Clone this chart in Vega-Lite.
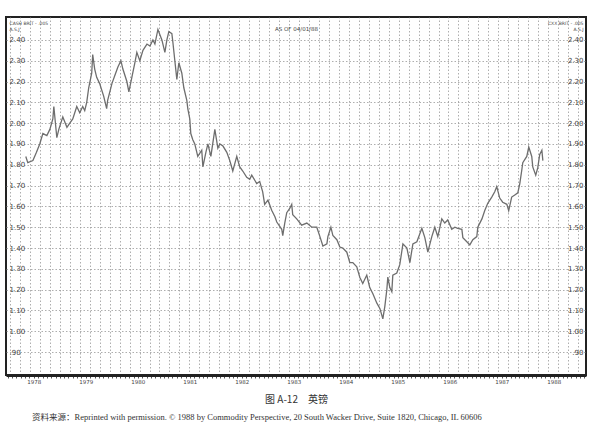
{
  "$schema": "https://vega.github.io/schema/vega-lite/v6.json",
  "width": 580,
  "height": 358,
  "autosize": {"type": "none"},
  "padding": {"left": 6, "top": 17, "right": 14, "bottom": 63},
  "background": "white",
  "title": {
    "text": "资料来源：Reprinted with permission. © 1988 by Commodity Perspective, 20 South Wacker Drive, Suite 1820, Chicago, IL 60606",
    "orient": "bottom",
    "anchor": "start",
    "dx": 26,
    "offset": 8,
    "font": "Liberation Serif, Noto Sans CJK SC",
    "fontSize": 8.5,
    "fontWeight": "normal",
    "color": "#333"
  },
  "config": {
    "font": "DejaVu Sans",
    "view": {"stroke": "#222", "strokeWidth": 2}
  },
  "data": {
    "values": [
      {"d": "1978-05-06", "v": 1.84},
      {"d": "1978-05-20", "v": 1.81},
      {"d": "1978-06-25", "v": 1.82},
      {"d": "1978-07-20", "v": 1.86},
      {"d": "1978-08-12", "v": 1.9},
      {"d": "1978-09-03", "v": 1.95},
      {"d": "1978-10-01", "v": 1.94},
      {"d": "1978-10-22", "v": 1.97},
      {"d": "1978-11-12", "v": 2.02},
      {"d": "1978-11-19", "v": 2.08},
      {"d": "1978-12-10", "v": 1.93},
      {"d": "1978-12-24", "v": 1.97},
      {"d": "1979-01-21", "v": 2.03},
      {"d": "1979-02-19", "v": 1.98},
      {"d": "1979-03-11", "v": 2.0},
      {"d": "1979-04-01", "v": 2.02},
      {"d": "1979-04-29", "v": 2.08},
      {"d": "1979-05-20", "v": 2.05},
      {"d": "1979-06-10", "v": 2.08},
      {"d": "1979-06-24", "v": 2.06},
      {"d": "1979-07-08", "v": 2.1},
      {"d": "1979-07-22", "v": 2.17},
      {"d": "1979-08-12", "v": 2.24},
      {"d": "1979-08-19", "v": 2.33},
      {"d": "1979-09-02", "v": 2.26},
      {"d": "1979-09-16", "v": 2.22},
      {"d": "1979-10-07", "v": 2.19},
      {"d": "1979-10-21", "v": 2.16},
      {"d": "1979-11-04", "v": 2.13},
      {"d": "1979-11-25", "v": 2.07},
      {"d": "1979-12-02", "v": 2.11},
      {"d": "1980-01-01", "v": 2.19},
      {"d": "1980-01-22", "v": 2.23},
      {"d": "1980-02-12", "v": 2.27},
      {"d": "1980-03-04", "v": 2.3},
      {"d": "1980-03-18", "v": 2.26},
      {"d": "1980-04-15", "v": 2.2},
      {"d": "1980-04-29", "v": 2.15},
      {"d": "1980-05-20", "v": 2.22},
      {"d": "1980-06-10", "v": 2.29},
      {"d": "1980-06-24", "v": 2.34},
      {"d": "1980-07-15", "v": 2.3},
      {"d": "1980-08-06", "v": 2.35},
      {"d": "1980-09-03", "v": 2.38},
      {"d": "1980-09-24", "v": 2.37},
      {"d": "1980-10-15", "v": 2.4},
      {"d": "1980-10-29", "v": 2.38},
      {"d": "1980-11-19", "v": 2.45},
      {"d": "1980-12-17", "v": 2.4},
      {"d": "1981-01-07", "v": 2.34},
      {"d": "1981-01-21", "v": 2.4},
      {"d": "1981-02-04", "v": 2.44},
      {"d": "1981-02-25", "v": 2.43},
      {"d": "1981-03-04", "v": 2.39},
      {"d": "1981-03-18", "v": 2.3},
      {"d": "1981-04-01", "v": 2.21},
      {"d": "1981-04-15", "v": 2.29},
      {"d": "1981-05-06", "v": 2.24},
      {"d": "1981-05-20", "v": 2.17},
      {"d": "1981-06-10", "v": 2.11},
      {"d": "1981-06-17", "v": 2.07},
      {"d": "1981-07-01", "v": 2.02},
      {"d": "1981-07-08", "v": 1.95},
      {"d": "1981-07-22", "v": 1.92},
      {"d": "1981-08-05", "v": 1.9},
      {"d": "1981-08-26", "v": 1.84},
      {"d": "1981-09-23", "v": 1.87},
      {"d": "1981-10-01", "v": 1.79},
      {"d": "1981-10-22", "v": 1.86},
      {"d": "1981-11-05", "v": 1.9},
      {"d": "1981-11-26", "v": 1.84},
      {"d": "1981-12-24", "v": 1.97},
      {"d": "1982-01-14", "v": 1.88},
      {"d": "1982-01-28", "v": 1.9},
      {"d": "1982-02-19", "v": 1.89},
      {"d": "1982-03-18", "v": 1.86},
      {"d": "1982-04-08", "v": 1.82},
      {"d": "1982-04-29", "v": 1.77},
      {"d": "1982-05-27", "v": 1.84},
      {"d": "1982-06-17", "v": 1.79},
      {"d": "1982-07-08", "v": 1.77},
      {"d": "1982-08-05", "v": 1.74},
      {"d": "1982-08-26", "v": 1.73},
      {"d": "1982-09-09", "v": 1.75},
      {"d": "1982-10-14", "v": 1.71},
      {"d": "1982-11-04", "v": 1.72},
      {"d": "1982-11-25", "v": 1.67},
      {"d": "1982-12-09", "v": 1.61},
      {"d": "1983-01-01", "v": 1.63},
      {"d": "1983-01-28", "v": 1.58},
      {"d": "1983-02-19", "v": 1.55},
      {"d": "1983-03-04", "v": 1.525},
      {"d": "1983-04-08", "v": 1.49},
      {"d": "1983-04-15", "v": 1.46},
      {"d": "1983-04-29", "v": 1.52},
      {"d": "1983-05-13", "v": 1.57},
      {"d": "1983-06-03", "v": 1.59},
      {"d": "1983-06-17", "v": 1.61},
      {"d": "1983-06-24", "v": 1.56},
      {"d": "1983-07-22", "v": 1.54},
      {"d": "1983-08-26", "v": 1.51},
      {"d": "1983-10-01", "v": 1.52},
      {"d": "1983-11-05", "v": 1.5},
      {"d": "1983-12-10", "v": 1.5},
      {"d": "1984-01-01", "v": 1.455},
      {"d": "1984-01-22", "v": 1.41},
      {"d": "1984-02-19", "v": 1.42},
      {"d": "1984-02-26", "v": 1.455},
      {"d": "1984-03-18", "v": 1.5},
      {"d": "1984-04-01", "v": 1.46},
      {"d": "1984-04-29", "v": 1.44},
      {"d": "1984-05-20", "v": 1.405},
      {"d": "1984-06-10", "v": 1.4},
      {"d": "1984-07-08", "v": 1.38},
      {"d": "1984-07-29", "v": 1.33},
      {"d": "1984-08-19", "v": 1.33},
      {"d": "1984-09-16", "v": 1.31},
      {"d": "1984-10-07", "v": 1.26},
      {"d": "1984-10-28", "v": 1.23},
      {"d": "1984-11-25", "v": 1.27},
      {"d": "1984-12-02", "v": 1.25},
      {"d": "1984-12-16", "v": 1.21},
      {"d": "1985-01-07", "v": 1.18},
      {"d": "1985-02-04", "v": 1.135},
      {"d": "1985-02-25", "v": 1.11},
      {"d": "1985-03-18", "v": 1.06},
      {"d": "1985-04-01", "v": 1.12},
      {"d": "1985-04-15", "v": 1.2},
      {"d": "1985-04-22", "v": 1.26},
      {"d": "1985-05-06", "v": 1.21},
      {"d": "1985-05-20", "v": 1.19},
      {"d": "1985-05-27", "v": 1.27},
      {"d": "1985-06-24", "v": 1.28},
      {"d": "1985-07-15", "v": 1.32},
      {"d": "1985-08-06", "v": 1.42},
      {"d": "1985-09-03", "v": 1.4},
      {"d": "1985-09-24", "v": 1.33},
      {"d": "1985-10-15", "v": 1.42},
      {"d": "1985-11-12", "v": 1.43},
      {"d": "1985-12-17", "v": 1.495},
      {"d": "1986-01-07", "v": 1.45},
      {"d": "1986-01-28", "v": 1.38},
      {"d": "1986-02-25", "v": 1.455},
      {"d": "1986-03-18", "v": 1.5},
      {"d": "1986-04-08", "v": 1.455},
      {"d": "1986-05-06", "v": 1.54},
      {"d": "1986-05-27", "v": 1.52},
      {"d": "1986-06-17", "v": 1.535},
      {"d": "1986-07-15", "v": 1.49},
      {"d": "1986-08-06", "v": 1.5},
      {"d": "1986-08-26", "v": 1.495},
      {"d": "1986-09-24", "v": 1.49},
      {"d": "1986-10-01", "v": 1.45},
      {"d": "1986-10-29", "v": 1.43},
      {"d": "1986-11-19", "v": 1.415},
      {"d": "1986-12-10", "v": 1.44},
      {"d": "1987-01-07", "v": 1.455},
      {"d": "1987-01-14", "v": 1.5},
      {"d": "1987-02-12", "v": 1.54},
      {"d": "1987-03-04", "v": 1.58},
      {"d": "1987-03-25", "v": 1.615},
      {"d": "1987-04-22", "v": 1.645},
      {"d": "1987-05-13", "v": 1.67},
      {"d": "1987-05-27", "v": 1.695},
      {"d": "1987-06-17", "v": 1.64},
      {"d": "1987-07-08", "v": 1.62},
      {"d": "1987-08-06", "v": 1.61},
      {"d": "1987-08-19", "v": 1.58},
      {"d": "1987-09-09", "v": 1.645},
      {"d": "1987-10-01", "v": 1.655},
      {"d": "1987-10-22", "v": 1.665},
      {"d": "1987-11-05", "v": 1.71},
      {"d": "1987-11-19", "v": 1.775},
      {"d": "1987-11-26", "v": 1.81},
      {"d": "1987-12-24", "v": 1.84},
      {"d": "1988-01-07", "v": 1.885},
      {"d": "1988-01-28", "v": 1.84},
      {"d": "1988-02-04", "v": 1.79},
      {"d": "1988-02-25", "v": 1.75},
      {"d": "1988-03-10", "v": 1.785},
      {"d": "1988-03-24", "v": 1.85},
      {"d": "1988-04-08", "v": 1.87},
      {"d": "1988-04-15", "v": 1.82}
    ]
  },
  "layer": [
    {
      "mark": {"type": "line", "strokeOpacity": 0},
      "encoding": {
        "x": {
          "field": "d",
          "type": "temporal",
          "scale": {"domain": [{"year": 1977, "month": 12, "date": 18}, {"year": 1989, "month": 2, "date": 12}]},
          "axis": {
            "orient": "top",
            "tickCount": {"interval": "week", "step": 10},
            "labels": false,
            "ticks": false,
            "domain": false,
            "grid": true,
            "gridColor": "#999999",
            "gridDash": [1.5, 2],
            "gridWidth": 0.8,
            "title": "AS OF 04/01/88",
            "titleFontSize": 5.5,
            "titleFontWeight": "normal",
            "titleColor": "#444",
            "titleY": 11,
            "titleBaseline": "middle"
          }
        },
        "y": {
          "field": "v",
          "type": "quantitative",
          "scale": {"domain": [0.79, 2.51], "nice": false, "zero": false},
          "axis": {
            "orient": "left",
            "values": [0.9, 1.0, 1.1, 1.2, 1.3, 1.4, 1.5, 1.6, 1.7, 1.8, 1.9, 2.0, 2.1, 2.2, 2.3, 2.4],
            "labelExpr": "replace(format(datum.value, '.2f'), regexp('^0'), '')",
            "labelAlign": "left",
            "labelPadding": -3,
            "ticks": false,
            "tickSize": 0,
            "domain": false,
            "labelFontSize": 7,
            "labelColor": "#444",
            "grid": true,
            "gridColor": "#999999",
            "gridDash": [1.5, 2],
            "gridWidth": 0.8,
            "title": ["CASH BRIT - .005", "A.S.J"],
            "titleAngle": 0,
            "titleAlign": "left",
            "titleBaseline": "top",
            "titleX": 3,
            "titleY": 3,
            "titleFontSize": 4.5,
            "titleFontWeight": "normal",
            "titleColor": "#444"
          }
        }
      }
    },
    {
      "mark": {"type": "line", "color": "#6e6e6e", "strokeWidth": 1.3},
      "encoding": {
        "x": {
          "field": "d",
          "type": "temporal",
          "axis": {
            "orient": "bottom",
            "tickCount": {"interval": "month", "step": 1},
            "labelExpr": "month(datum.value) == 6 ? timeFormat(datum.value, '%Y') : ''",
            "labelOverlap": false,
            "labelFontSize": 5.5,
            "labelColor": "#444",
            "labelPadding": 1,
            "tickSize": 3,
            "tickColor": "#555",
            "domainColor": "#222",
            "domainWidth": 3,
            "grid": false,
            "title": "图 A-12　英镑",
            "titleFont": "Noto Sans CJK SC",
            "titleFontSize": 10,
            "titleFontWeight": "normal",
            "titleColor": "#333",
            "titlePadding": 10
          }
        },
        "y": {
          "field": "v",
          "type": "quantitative",
          "axis": {
            "orient": "right",
            "values": [0.9, 1.0, 1.1, 1.2, 1.3, 1.4, 1.5, 1.6, 1.7, 1.8, 1.9, 2.0, 2.1, 2.2, 2.3, 2.4],
            "labelExpr": "replace(format(datum.value, '.2f'), regexp('^0'), '')",
            "labelAlign": "right",
            "labelPadding": -3,
            "ticks": false,
            "tickSize": 0,
            "domain": false,
            "labelFontSize": 7,
            "labelColor": "#444",
            "grid": false,
            "title": ["CXX BRIT - .005", "A.S.J"],
            "titleAngle": 0,
            "titleAlign": "right",
            "titleBaseline": "top",
            "titleX": -3,
            "titleY": 3,
            "titleFontSize": 4.5,
            "titleFontWeight": "normal",
            "titleColor": "#444"
          }
        }
      }
    }
  ],
  "resolve": {"axis": {"x": "independent", "y": "independent"}}
}
